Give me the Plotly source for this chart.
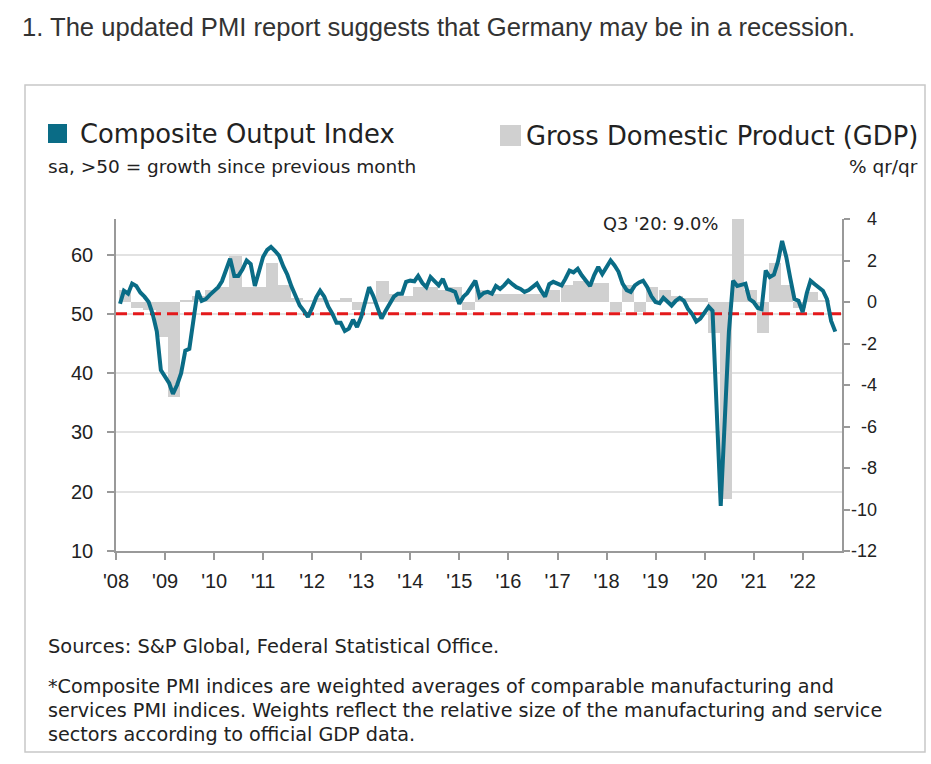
import plotly.graph_objects as go
import pandas as pd

# ---------------- data ----------------
pmi_start = "2008-01"
pmi_values = [
    51.7, 53.9, 53.4, 55.1, 54.7, 53.6, 52.9, 52.0, 50.0, 47.0, 40.5, 39.5,   # 2008
    38.3, 36.5, 38.0, 40.0, 43.8, 44.1, 48.5, 53.9, 52.2, 52.5, 53.2, 53.9,   # 2009
    54.5, 55.5, 57.5, 59.3, 56.4, 56.4, 57.5, 59.0, 58.4, 54.7, 57.1, 59.6,   # 2010
    60.8, 61.3, 60.6, 59.8, 58.0, 56.6, 54.6, 53.0, 51.4, 50.5, 49.5, 51.0,   # 2011
    52.8, 53.9, 52.9, 51.2, 50.0, 48.5, 48.5, 47.1, 47.5, 49.0, 47.8, 49.5,   # 2012
    52.5, 54.5, 53.0, 51.0, 49.2, 50.5, 51.8, 52.9, 53.4, 53.4, 55.4, 55.6,   # 2013
    55.5, 56.4, 55.2, 54.5, 56.2, 55.6, 54.8, 55.9, 54.2, 54.0, 53.7, 51.7,   # 2014
    52.9, 53.5, 54.5, 55.6, 52.9, 53.5, 53.7, 53.4, 54.7, 54.2, 54.8, 55.6,   # 2015
    55.0, 54.5, 54.2, 53.7, 54.0, 54.5, 55.1, 53.9, 52.9, 55.0, 55.4, 55.1,   # 2016
    54.8, 55.9, 57.3, 57.0, 57.6, 56.5, 55.5, 54.7, 56.5, 57.9, 56.7, 58.0,   # 2017
    59.0, 58.2, 57.1, 55.1, 54.0, 53.7, 54.8, 55.3, 55.6, 54.5, 53.0, 52.0,   # 2018
    51.8, 52.7, 52.0, 51.4, 52.2, 52.7, 52.2, 50.8, 50.0, 48.7, 49.2, 50.2,   # 2019
    51.2, 50.5, 35.0, 17.6, 32.5, 47.0, 55.6, 54.7, 54.9, 55.1, 52.5, 52.0,   # 2020
    51.0, 50.8, 57.3, 56.2, 56.6, 58.8, 62.3, 59.6, 56.0, 52.5, 52.2, 50.3,   # 2021
    53.5, 55.6, 55.0, 54.4, 53.9, 52.5, 48.8, 47.0,                           # 2022
]

gdp_start = "2008-01"
gdp_values = [
    0.6, -0.3, -0.4, -1.7,    # 2008
    -4.6, 0.1, 0.3, 0.6,      # 2009
    0.7, 2.2, 0.7, 0.7,       # 2010
    1.9, 0.8, 0.2, 0.1,       # 2011
    0.2, 0.1, 0.2, -0.4,      # 2012
    -0.1, 1.0, 0.4, 0.3,      # 2013
    0.7, 0.7, 0.6, 0.7,       # 2014
    -0.4, 0.6, 0.4, 0.4,      # 2015
    0.4, 0.4, 0.4, 0.6,       # 2016
    0.8, 1.0, 0.9, 0.9,       # 2017
    -0.5, 0.8, -0.5, 0.7,     # 2018
    0.6, 0.3, 0.2, 0.2,       # 2019
    -1.5, -9.5, 9.0, 0.6,     # 2020
    -1.5, 1.9, 0.8, -0.3,     # 2021
    0.5, 0.1,                 # 2022
]

year_ticks = list(range(2008, 2023))
year_labels = ["'08", "'09", "'10", "'11", "'12", "'13", "'14", "'15",
               "'16", "'17", "'18", "'19", "'20", "'21", "'22"]
pmi_ticks = [10, 20, 30, 40, 50, 60]
gdp_ticks = [-12, -10, -8, -6, -4, -2, 0, 2, 4]
threshold = 50

x_start, x_end = "2008-01-01", "2022-10-20"
pmi_range = [10, 66]
gdp_range = [-12, 4]

# ---------------- derived ----------------
pmi_dates = pd.date_range(pmi_start, periods=len(pmi_values), freq="ME")
q_starts = pd.date_range(gdp_start, periods=len(gdp_values), freq="QS")
gdp_dates = q_starts + pd.Timedelta(days=68)
gdp_plot = [min(v, gdp_range[1]) for v in gdp_values]
tick_dates = [pd.Timestamp(f"{y}-01-01") for y in year_ticks]

W, H = 931, 764
L, R, T, B = 116, 842, 219, 551


def px(x):
    return (x - L) / (R - L)


def py(y):
    return (B - y) / (B - T)


TEAL = "#0a6c86"
GRAY_BAR = "#d0d0d0"
TXT = "#222222"
FONT = "Liberation Sans, Arial, sans-serif"
FONT2 = "DejaVu Sans, Liberation Sans, sans-serif"

fig = go.Figure()

fig.add_trace(go.Bar(
    x=gdp_dates, y=gdp_plot, marker=dict(color=GRAY_BAR, line=dict(width=0)),
    width=91 * 86400000, yaxis="y", showlegend=False, hoverinfo="skip",
))
fig.add_trace(go.Scatter(
    x=[x_start, x_end], y=[threshold, threshold], mode="lines", yaxis="y2",
    line=dict(color="#e3191b", width=3, dash="11px,6px"), showlegend=False,
    hoverinfo="skip",
))
fig.add_trace(go.Scatter(
    x=pmi_dates, y=pmi_values, mode="lines", yaxis="y2",
    line=dict(color=TEAL, width=4), showlegend=False,
))

fig.update_layout(
    width=W, height=H,
    margin=dict(l=L, r=W - R, t=T, b=H - B),
    paper_bgcolor="white", plot_bgcolor="white",
    font=dict(family=FONT, color=TXT, size=19),
    bargap=0,
    xaxis=dict(
        type="date", range=[x_start, x_end],
        tickvals=tick_dates, ticktext=year_labels,
        ticks="outside", ticklen=7, tickcolor="#999", tickwidth=1.5,
        showline=True, linecolor="#999", linewidth=1.5,
        showgrid=False, zeroline=False, ticklabelstandoff=4,
        tickfont=dict(size=20, color=TXT),
    ),
    yaxis=dict(
        side="right", range=gdp_range, tickvals=gdp_ticks,
        showticklabels=False,
        ticks="outside", ticklen=6, tickcolor="#999", tickwidth=1.5,
        showline=True, linecolor="#999", linewidth=1.5,
        showgrid=False, zeroline=False,
    ),
    yaxis2=dict(
        overlaying="y", side="left", range=pmi_range, tickvals=pmi_ticks,
        ticks="outside", ticklen=7, tickcolor="#999", tickwidth=1.5,
        showline=True, linecolor="#999", linewidth=1.5,
        showgrid=True, gridcolor="#e2e2e2", gridwidth=2,
        zeroline=False, ticklabelstandoff=10,
        tickfont=dict(size=20, color=TXT),
    ),
)

shapes = [
    dict(type="rect", xref="paper", yref="paper",
         x0=px(25), x1=px(925), y0=py(85), y1=py(752),
         line=dict(color="#c8c8c8", width=1.5), fillcolor="rgba(0,0,0,0)",
         layer="below"),
    dict(type="rect", xref="paper", yref="paper",
         x0=px(48), x1=px(67), y0=py(124), y1=py(143),
         line=dict(width=0), fillcolor=TEAL),
    dict(type="rect", xref="paper", yref="paper",
         x0=px(500), x1=px(521), y0=py(125), y1=py(146),
         line=dict(width=0), fillcolor=GRAY_BAR),
]

ann = []


def text(s, x, y, size, xanchor="left", color=TXT, family=FONT2):
    ann.append(dict(text=s, x=px(x), y=py(y), xref="paper", yref="paper",
                    xanchor=xanchor, yanchor="middle", showarrow=False,
                    font=dict(size=size, color=color, family=family)))


text("1. The updated PMI report suggests that Germany may be in a recession.",
     20, 27, 25.6, color="#333", family=FONT)
text("Composite Output Index", 78, 134, 25.8)
text("sa, >50 = growth since previous month", 46, 166, 18.5)
text("Gross Domestic Product (GDP)", 920, 136, 25.8, xanchor="right")
text("% qr/qr", 920, 166, 18.5, xanchor="right")
text("Q3 '20: 9.0%", 720, 223, 17.8, xanchor="right")
text("Sources: S&P Global, Federal Statistical Office.", 46, 646, 19.4)
text("*Composite PMI indices are weighted averages of comparable manufacturing and",
     46, 686, 19.2)
text("services PMI indices. Weights reflect the relative size of the manufacturing and service",
     46, 710, 19.2)
text("sectors according to official GDP data.", 46, 734, 19.2)

# right-axis tick labels, right aligned
for v in gdp_ticks:
    ann.append(dict(text=str(v), x=px(879), xref="paper", y=v, yref="y",
                    xanchor="right", yanchor="middle", showarrow=False,
                    font=dict(size=18, color=TXT, family=FONT)))

fig.update_layout(shapes=shapes, annotations=ann)

fig.write_html("out.html", config={"displayModeBar": False},
               post_script="document.body.style.margin='0';")
